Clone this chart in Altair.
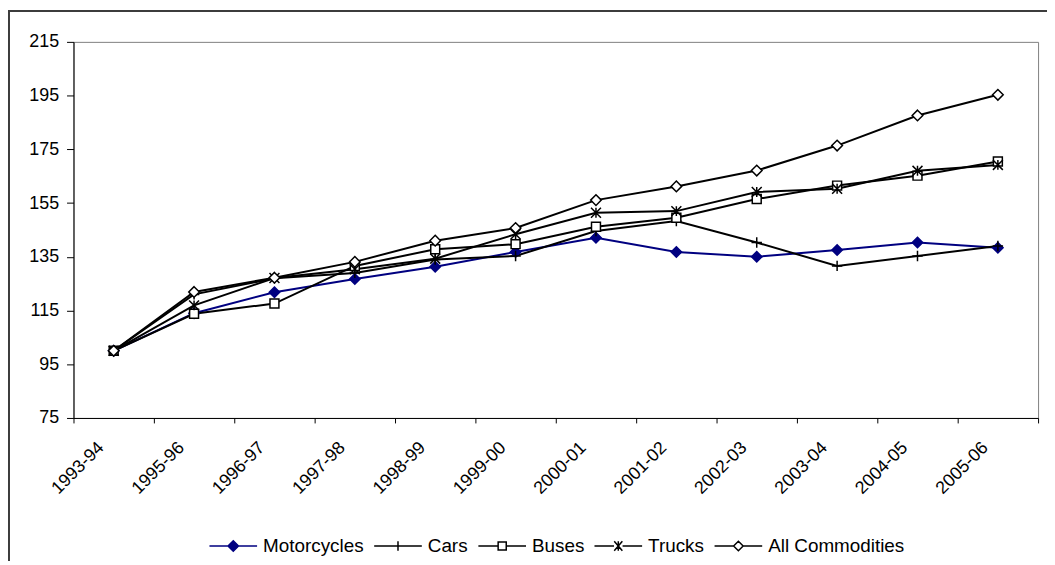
import altair as alt
import pandas as pd

categories = ["1993-94", "1995-96", "1996-97", "1997-98", "1998-99", "1999-00",
              "2000-01", "2001-02", "2002-03", "2003-04", "2004-05", "2005-06"]
series_names = ["Motorcycles", "Cars", "Buses", "Trucks", "All Commodities"]

motorcycles = [100, 114.0, 121.8, 126.7, 131.3, 136.8, 142.1, 136.8, 135.0, 137.5, 140.3, 138.4]
cars = [100, 121.0, 127.0, 129.0, 134.0, 135.3, 144.6, 148.3, 140.3, 131.6, 135.3, 139.0]
buses = [100, 113.8, 117.6, 131.6, 137.8, 139.7, 146.2, 149.5, 156.5, 161.5, 165.2, 170.5]
trucks = [100, 116.9, 127.1, 130.4, 134.3, 143.4, 151.4, 152.0, 159.1, 160.3, 167.0, 169.2]
all_commodities = [100, 121.9, 127.2, 133.1, 141.0, 145.7, 156.1, 161.2, 167.1, 176.4, 187.6, 195.3]

y_ticks = [75, 95, 115, 135, 155, 175, 195, 215]

rows = []
for name, vals in zip(series_names, [motorcycles, cars, buses, trucks, all_commodities]):
    for c, v in zip(categories, vals):
        rows.append({"year": c, "series": name, "value": v})
df = pd.DataFrame(rows)

W, H = 972, 379
FONT = "Arial"

stroke_range = ["#000080", "#000000", "#000000", "#000000", "#000000"]
fill_range = ["#000080", "transparent", "#ffffff", "transparent", "#ffffff"]

# chart marker paths (unit coords): path, size, fill, stroke
marker_paths = {
    "Motorcycles": ("M0,-1L1,0L0,1L-1,0Z", 110, "#000080", "#000080"),
    "Cars": ("M-1,0H1M0,-1V1", 110, "transparent", "#000000"),
    "Buses": ("M-1,-1H1V1H-1Z", 81, "#ffffff", "#000000"),
    "Trucks": ("M-1,-1L1,1M1,-1L-1,1M0,-1V1", 100, "transparent", "#000000"),
    "All Commodities": ("M0,-1L1,0L0,1L-1,0Z", 115, "#ffffff", "#000000"),
}

# legend symbols: line with marker in the middle
legend_paths = [
    "M-1,0H1M0,-0.22L0.22,0L0,0.22L-0.22,0Z",
    "M-1,0H1M0,-0.2V0.2",
    "M-1,0H-0.17M0.17,0H1M-0.17,-0.17H0.17V0.17H-0.17Z",
    "M-1,0H-0.18M0.18,0H1M-0.17,-0.2L0.17,0.2M0.17,-0.2L-0.17,0.2M0,-0.2V0.2",
    "M-1,0H-0.2M0.2,0H1M0,-0.2L0.2,0L0,0.2L-0.2,0Z",
]

x_enc = alt.X(
    "year:N",
    sort=categories,
    bandPosition=0.5,
    scale=alt.Scale(type="band", domain=categories, paddingInner=0, paddingOuter=0),
    axis=alt.Axis(
        title=None, tickBand="extent", labelAngle=315, labelAlign="right",
        labelBaseline="middle", labelOffset=-13, labelPadding=22, tickSize=5,
        labelFontSize=18, labelFont=FONT, labelColor="#000000",
        domainColor="#000000", tickColor="#000000", grid=False,
    ),
)
y_enc = alt.Y(
    "value:Q",
    scale=alt.Scale(domain=[75, 215], nice=False, zero=False),
    axis=alt.Axis(
        title=None, values=y_ticks, grid=False, tickSize=7, labelPadding=8,
        labelFontSize=18, labelFont=FONT, labelColor="#000000",
        domainColor="#000000", tickColor="#000000",
    ),
)

base = alt.Chart(df)

border = alt.Chart(alt.Data(values=[{"a": 1}])).mark_rect(
    filled=False, color="#3c3c3c", strokeWidth=2
).encode(
    x=alt.value(-65), x2=alt.value(W + 200), y=alt.value(-31), y2=alt.value(H + 300)
)

line_layers = []
marker_layers = []
for name, color in zip(series_names, stroke_range):
    path, size, fill, stroke = marker_paths[name]
    sub = base.transform_filter(alt.datum.series == name)
    line_layers.append(sub.mark_line(strokeWidth=2, color=color).encode(x=x_enc, y=y_enc))
    marker_layers.append(
        sub.mark_point(
            shape=path, size=size, fill=fill, stroke=stroke, strokeWidth=1.5, opacity=1, filled=False
        ).encode(x=x_enc, y=y_enc)
    )

leg = alt.Legend(
    title=None, orient="none", legendX=136, legendY=483, direction="horizontal",
    symbolSize=2304, symbolStrokeWidth=1.5, symbolOpacity=1, labelFontSize=19,
    labelFont=FONT, labelColor="#000000", labelOffset=5, columnPadding=7, padding=0,
)
legend_layer = base.mark_point(opacity=0, strokeWidth=1.5).encode(
    x=x_enc, y=y_enc,
    shape=alt.Shape("series:N", scale=alt.Scale(domain=series_names, range=legend_paths), legend=leg),
    stroke=alt.Stroke("series:N", scale=alt.Scale(domain=series_names, range=stroke_range), legend=leg),
    fill=alt.Fill("series:N", scale=alt.Scale(domain=series_names, range=fill_range), legend=leg),
)

chart = alt.layer(border, *line_layers, *marker_layers, legend_layer).properties(
    width=W, height=H,
    autosize=alt.AutoSizeParams(type="none"),
    padding={"left": 66, "top": 32, "right": 9, "bottom": 142},
    background="#ffffff",
).configure_view(stroke="#808080", strokeWidth=1)

chart.save("out.html", embed_options={"renderer": "svg", "actions": False})
